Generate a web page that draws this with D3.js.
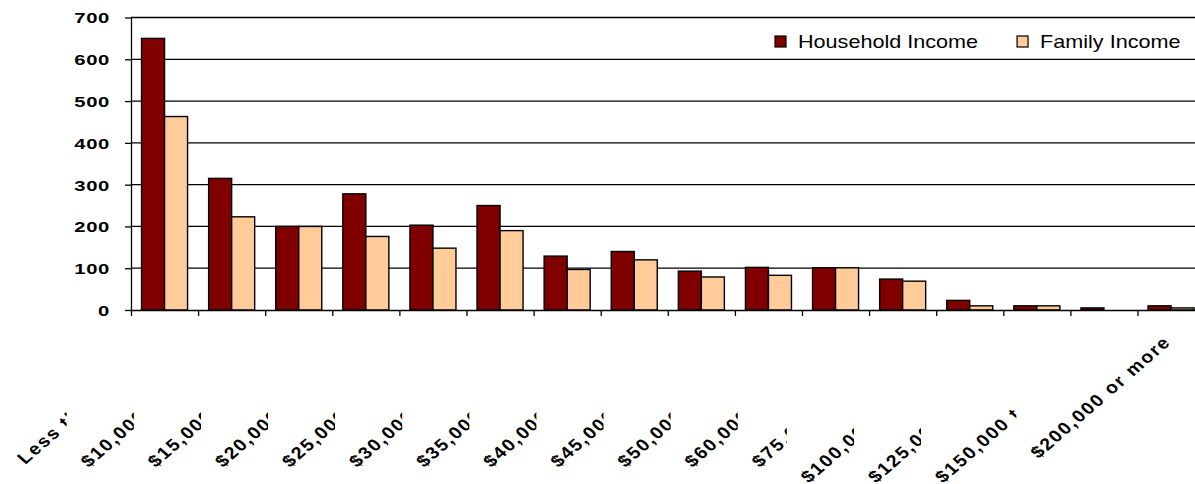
<!DOCTYPE html>
<html>
<head>
<meta charset="utf-8">
<script src="https://cdn.jsdelivr.net/npm/d3@7"></script>
<style>
body { margin: 0; background: #fff; }
svg { display: block; font-family: "Liberation Sans", Arial, sans-serif; }
</style>
</head>
<body>
<script>
var categories = ['Less than $10,000', '$10,000 to $14,999', '$15,000 to $19,999', '$20,000 to $24,999',
  '$25,000 to $29,999', '$30,000 to $34,999', '$35,000 to $39,999', '$40,000 to $44,999',
  '$45,000 to $49,999', '$50,000 to $59,999', '$60,000 to $74,999', '$75,000 to $99,999',
  '$100,000 to $124,999', '$125,000 to $149,999', '$150,000 to $199,999', '$200,000 or more'];
var household = [650, 315, 200, 278, 203, 250, 129, 140, 93, 102, 101, 74, 23, 10, 5, 10];
var family = [463, 223, 200, 176, 148, 190, 97, 120, 79, 83, 101, 69, 10, 10, 0, 5];
var yTicks = [0, 100, 200, 300, 400, 500, 600, 700];
var series = ['Household Income', 'Family Income'];
var colors = ['#800000', '#FFCC99'];

// size
const width = 1195;
const height = 484;
const plotLeft = 131, plotTop = 17.5, plotBottom = 310;
const step = 67.1;
const stretch = 1.35;     // y labels look stretched sideways
const labStretch = 1.15;  // and so do the slanted ones

const svg = d3.select('body')
    .append('svg')
    .attr('width', width)
    .attr('height', height);

var x = d3.scaleBand()
    .domain(categories)
    .range([plotLeft, plotLeft + step * categories.length])
    .paddingInner(0.314)
    .paddingOuter(0.157);

var xSeries = d3.scaleBand()
    .domain(series)
    .range([0, x.bandwidth()]);

var y = d3.scaleLinear()
    .domain([0, 700])
    .range([plotBottom, plotTop]);

var color = d3.scaleOrdinal().domain(series).range(colors);

// grid lines
svg.selectAll('line.grid')
    .data(yTicks.slice(1))
    .enter()
    .append('line')
    .attr('class', 'grid')
    .attr('x1', plotLeft)
    .attr('x2', width)
    .attr('y1', function(d) { return y(d); })
    .attr('y2', function(d) { return y(d); })
    .attr('stroke', '#000')
    .attr('stroke-width', 1.3);

// bars
var groups = svg.selectAll('g.cat')
    .data(categories)
    .enter()
    .append('g')
    .attr('class', 'cat')
    .attr('transform', function(d) { return 'translate(' + x(d) + ',0)'; });

groups.selectAll('rect')
    .data(function(d, i) {
        return [{s: series[0], v: household[i]}, {s: series[1], v: family[i]}];
    })
    .enter()
    .append('rect')
    .attr('x', function(d) { return xSeries(d.s); })
    .attr('width', xSeries.bandwidth())
    .attr('y', function(d) { return y(d.v); })
    .attr('height', function(d) { return y(0) - y(d.v); })
    .attr('fill', function(d) { return color(d.s); })
    .attr('stroke', '#000')
    .attr('stroke-width', function(d) { return d.v > 0 ? 1.4 : 0; });

// y axis
var yAxis = svg.append('g')
    .attr('transform', 'translate(' + plotLeft + ',0)')
    .call(d3.axisLeft(y).tickValues(yTicks).tickSize(6).tickSizeOuter(0));

yAxis.select('.domain').attr('stroke', '#000').attr('stroke-width', 1.3);
yAxis.selectAll('.tick line').attr('stroke', '#000').attr('stroke-width', 1.3);
yAxis.selectAll('.tick text')
    .attr('x', 0)
    .attr('dy', '0.36em')
    .attr('transform', 'translate(-21,0) scale(' + stretch + ',1)')
    .attr('fill', '#000')
    .style('font', 'bold 15px "Liberation Sans", Arial, sans-serif')
    .style('letter-spacing', '0.5px');

// x axis, ticks between the groups
var xEdges = d3.scaleLinear()
    .domain([0, categories.length])
    .range([plotLeft, plotLeft + step * categories.length]);

var xAxis = svg.append('g')
    .attr('transform', 'translate(0,' + y(0) + ')')
    .call(d3.axisBottom(xEdges).ticks(categories.length).tickFormat('').tickSize(6).tickSizeOuter(0));

xAxis.select('.domain').attr('stroke', '#000').attr('stroke-width', 1.3);
xAxis.selectAll('.tick line').attr('stroke', '#000').attr('stroke-width', 1.3);

// category labels, cut off where the next one starts
var labelY = 343;
function labelX(d) { return x(d) + x.bandwidth() / 2 + 1; }

var defs = svg.append('defs');
var labels = svg.selectAll('g.lab')
    .data(categories)
    .enter()
    .append('g')
    .attr('class', 'lab')
    .attr('clip-path', function(d, i) { return 'url(#lab-clip-' + i + ')'; });

var labelText = labels.append('text')
    .attr('transform', function(d) {
        return 'translate(' + labelX(d) + ',' + labelY + ') scale(' + labStretch + ',1) rotate(-45)';
    })
    .attr('text-anchor', 'end')
    .attr('fill', '#000')
    .style('font', 'bold 17px "Liberation Sans", Arial, sans-serif')
    .style('letter-spacing', '1.6px')
    .text(function(d) { return d; });

// left end of each label, on screen
var starts = [];
labelText.each(function(d, i) {
    var b = this.getBBox();
    starts[i] = labelX(d) + b.x * Math.SQRT1_2 * labStretch;
});

defs.selectAll('clipPath')
    .data(categories)
    .enter()
    .append('clipPath')
    .attr('id', function(d, i) { return 'lab-clip-' + i; })
    .append('rect')
    .attr('x', 0)
    .attr('y', 0)
    .attr('height', height)
    .attr('width', function(d, i) {
        return i < categories.length - 1 ? starts[i + 1] - 22 : width;
    });

// legend
var legend = svg.append('g');
var lx = 775;
series.forEach(function(s) {
    legend.append('rect')
        .attr('x', lx)
        .attr('y', 36)
        .attr('width', 11)
        .attr('height', 11)
        .attr('fill', color(s))
        .attr('stroke', '#000')
        .attr('stroke-width', 1.2);
    var t = legend.append('text')
        .attr('transform', 'translate(' + (lx + 23) + ',48.3) scale(1.2,1)')
        .attr('fill', '#000')
        .style('font', '18px "Liberation Sans", Arial, sans-serif')
        .text(s);
    lx = lx + 23 + t.node().getComputedTextLength() * 1.2 + 39;
});
</script>
</body>
</html>
